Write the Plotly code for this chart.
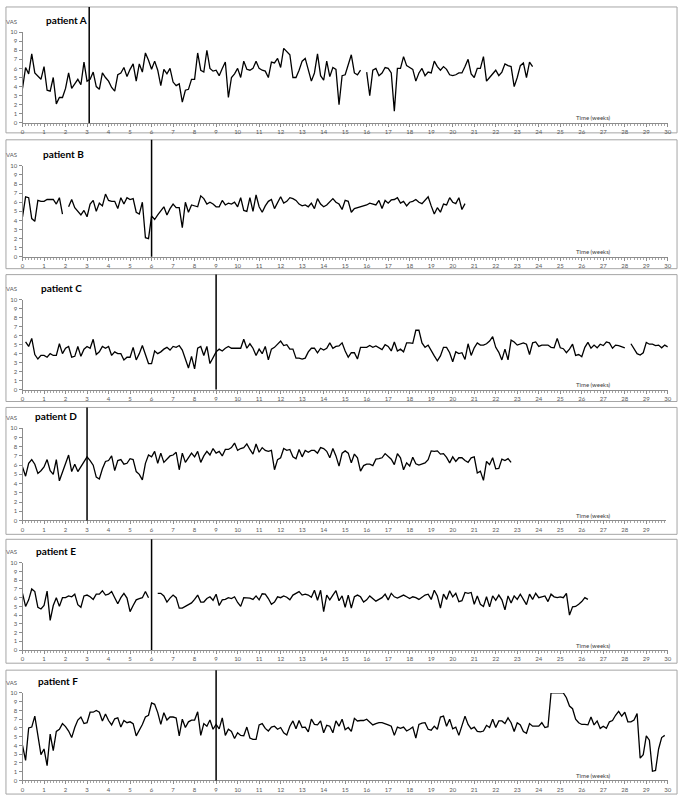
import plotly.graph_objects as go

# ---------------- data (daily VAS scores, None = missing day) ----------------
patients = ["A", "B", "C", "D", "E", "F"]
start_day = [0, 0, 1, 0, 0, 0]
intervention_week = [3.1, 6.0, 9.0, 3.0, 6.0, 9.0]

vas_a = [3.8, 6.1, 5.4, 7.6, 5.5, 5.2, 4.8, 6.2, 3.6, 3.5,
         5.0, 2.1, 2.8, 2.8, 3.8, 5.5, 3.8, 4.3, 4.8, 4.2,
         6.7, 4.6, 4.8, 5.6, 4.0, 3.7, 5.5, 5.0, 4.6, 3.9,
         3.5, 5.3, 5.5, 6.1, 5.1, 5.9, 6.5, 4.6, 6.5, 5.6,
         7.7, 6.9, 5.9, 6.8, 5.8, 4.1, 5.9, 5.4, 6.0, 4.5,
         4.1, 4.3, 2.3, 3.6, 3.7, 4.8, 4.8, 7.7, 5.8, 5.6,
         8.0, 6.0, 5.7, 5.8, 5.2, 6.0, 6.7, 2.8, 5.0, 5.4,
         6.0, 5.0, 6.8, 5.9, 5.8, 6.0, 6.8, 6.0, 5.8, 5.7,
         5.0, 6.7, 6.6, 7.1, 6.1, 8.2, 7.8, 7.5, 5.0, 5.0,
         5.8, 6.8, 7.1, 5.9, 4.6, 5.5, 7.6, 5.2, 4.7, 6.8,
         5.1, 6.1, 5.9, 2.0, 5.2, 5.3, 6.4, 7.5, 5.5, 5.3,
         5.8, None, 5.6, 3.0, 5.8, 6.0, 5.2, 5.5, 6.1, 6.0,
         5.5, 1.3, 6.0, 6.0, 7.3, 6.3, 6.1, 5.9, 4.6, 5.5,
         6.0, 5.2, 5.6, 5.5, 6.8, 6.2, 5.8, 6.2, 5.9, 5.3,
         5.2, 5.3, 5.5, 5.5, 6.2, 7.0, 5.4, 5.0, 6.0, 6.0,
         7.3, 4.6, 5.0, 5.4, 5.8, 5.2, 5.6, 6.5, 6.3, 6.2,
         4.0, 5.0, 6.3, 6.6, 5.0, 6.7, 6.2]

vas_b = [4.4, 6.6, 6.5, 4.2, 3.9, 6.2, 6.1, 6.1, 6.3, 6.3,
         6.3, 5.8, 6.5, 4.7, None, 5.5, 6.3, 5.4, 5.0, 4.6,
         5.1, 4.4, 5.8, 6.2, 5.0, 5.9, 5.6, 6.9, 6.2, 6.1,
         6.1, 5.3, 6.5, 5.8, 6.5, 6.3, 6.4, 4.9, 4.7, 6.0,
         2.1, 2.0, 4.5, 4.1, 4.6, 5.0, 5.5, 4.6, 5.3, 5.8,
         5.4, 5.4, 3.2, 6.0, 4.9, 5.7, 5.6, 5.5, 6.7, 6.4,
         5.8, 6.0, 5.8, 5.5, 5.5, 6.2, 5.7, 5.9, 5.8, 6.0,
         5.5, 6.5, 5.1, 5.0, 6.5, 5.0, 6.8, 5.5, 4.9, 5.6,
         6.1, 6.3, 5.3, 6.0, 6.6, 5.9, 6.1, 6.5, 6.4, 6.2,
         5.8, 5.6, 5.7, 5.5, 5.9, 5.3, 6.4, 5.8, 5.5, 5.7,
         6.0, 6.4, 6.0, 5.8, 5.2, 6.2, 6.1, 4.9, 5.3, 5.4,
         5.5, 5.6, 5.7, 5.9, 5.8, 5.7, 6.2, 5.3, 6.2, 5.9,
         6.25, 6.3, 6.5, 5.9, 6.1, 5.6, 6.0, 6.1, 6.3, 6.0,
         5.85, 6.2, 6.6, 5.6, 4.7, 5.4, 4.9, 5.8, 5.7, 6.5,
         6.0, 5.85, 6.5, 5.2, 5.85]

vas_c = [5.3, 4.8, 5.7, 3.9, 3.4, 3.8, 3.8, 3.6, 4.0, 3.8,
         3.8, 5.1, 4.0, 4.6, 4.8, 3.6, 3.7, 4.8, 3.7, 4.5,
         4.8, 4.6, 5.6, 3.9, 4.2, 4.8, 4.6, 4.8, 3.8, 4.2,
         4.0, 4.0, 3.3, 3.6, 3.6, 4.7, 3.3, 4.0, 4.9, 4.0,
         2.9, 2.9, 4.3, 4.0, 4.2, 4.5, 4.7, 4.4, 4.8, 4.7,
         4.9, 4.4, 3.5, 2.4, 3.7, 2.3, 4.6, 4.8, 3.8, 4.8,
         2.9, 3.6, 4.2, 4.5, 4.3, 4.6, 4.8, 4.6, 4.6, 4.6,
         4.6, 5.6, 4.6, 5.1, 4.6, 3.8, 4.5, 4.0, 4.8, 3.3,
         4.5, 4.7, 5.1, 5.4, 4.9, 5.0, 4.5, 4.5, 3.5, 3.5,
         3.4, 3.5, 4.2, 4.6, 4.6, 4.1, 4.6, 4.4, 4.6, 5.2,
         4.6, 4.8, 4.85, 5.2, 4.3, 3.6, 4.1, 4.1, 3.4, 4.7,
         4.7, 4.7, 4.9, 4.7, 4.85, 4.6, 4.45, 5.0, 4.8, 4.3,
         5.3, 4.3, 4.5, 4.2, 5.2, 5.2, 5.15, 6.6, 6.6, 5.2,
         4.7, 4.95, 4.3, 3.75, 3.2, 3.75, 4.7, 4.7, 4.1, 3.1,
         4.2, 4.0, 4.1, 3.35, 5.1, 3.8, 4.65, 5.2, 4.95, 4.95,
         5.1, 5.4, 5.9, 4.7, 4.15, 3.3, 4.5, 3.3, 5.5, 5.3,
         4.95, 5.05, 5.2, 5.05, 3.9, 5.2, 5.3, 4.8, 4.95, 4.95,
         4.95, 4.7, 4.65, 5.7, 4.65, 4.55, 4.1, 4.5, 5.05, 3.8,
         3.9, 3.65, 4.7, 5.25, 4.6, 4.95, 4.65, 5.05, 4.9, 5.3,
         5.2, 4.6, 4.95, 4.9, 4.75, 4.65, None, 5.1, 4.5, 4.0,
         3.85, 4.1, 5.25, 5.05, 5.05, 4.9, 4.95, 4.65, 4.95, 4.75]

vas_d = [5.8, 4.8, 6.2, 6.6, 6.1, 5.1, 5.4, 5.8, 6.6, 5.4,
         5.0, 6.6, 4.3, 5.2, 6.2, 7.1, 5.3, 6.1, 5.3, 5.8,
         6.4, 6.9, 6.5, 6.0, 4.7, 4.5, 5.6, 6.4, 6.5, 7.0,
         5.4, 6.5, 6.6, 6.1, 6.2, 6.7, 6.6, 5.3, 5.0, 4.4,
         6.2, 7.1, 6.9, 7.5, 6.2, 7.3, 6.3, 6.7, 7.0, 7.1,
         7.4, 5.5, 7.3, 6.3, 6.8, 7.3, 6.9, 7.5, 6.3, 7.0,
         7.5, 7.1, 7.8, 7.3, 7.5, 7.0, 7.7, 7.7, 7.9, 8.4,
         7.6, 7.8, 7.9, 8.3, 7.7, 7.2, 8.3, 7.4, 7.9, 7.6,
         7.5, 7.6, 5.5, 6.6, 6.8, 7.8, 7.6, 7.7, 6.9, 6.7,
         7.7, 6.9, 7.6, 7.4, 7.6, 7.6, 7.3, 7.9, 7.8, 7.5,
         6.8, 7.8, 7.0, 5.9, 7.3, 7.55, 7.3, 6.25, 7.2, 6.8,
         5.35, 5.95, 6.1, 6.1, 5.95, 6.65, 6.7, 6.8, 7.25, 6.9,
         6.65, 6.05, 7.25, 6.8, 5.5, 6.25, 5.9, 6.85, 6.15, 6.0,
         6.1, 6.25, 6.6, 7.55, 7.5, 7.55, 7.2, 7.25, 6.85, 6.25,
         6.9, 6.4, 6.8, 6.8, 6.5, 6.3, 6.8, 6.9, 5.15, 5.35,
         4.35, 6.4, 6.05, 6.8, 5.6, 5.65, 6.65, 6.5, 6.7, 6.3]

vas_e = [6.5, 5.0, 5.75, 7.0, 6.7, 4.9, 4.7, 5.1, 6.75, 3.4,
         5.1, 6.0, 5.0, 6.0, 6.0, 6.2, 6.1, 6.4, 5.2, 4.9,
         6.2, 6.3, 6.1, 5.8, 6.4, 6.4, 6.8, 6.3, 6.4, 6.7,
         6.0, 5.3, 6.0, 6.5, 5.95, 4.4, 5.1, 5.75, 5.9, 6.0,
         6.7, 6.0, None, None, 6.5, 6.5, 6.2, 5.5, 5.95, 6.3,
         6.0, 4.8, 4.8, 5.0, 5.2, 5.4, 5.8, 6.3, 5.5, 5.5,
         5.9, 6.1, 5.7, 6.4, 5.1, 5.75, 5.8, 6.0, 5.9, 6.1,
         5.45, 5.0, 6.0, 6.0, 5.95, 5.8, 6.2, 5.75, 6.45, 6.4,
         5.9, 5.25, 5.5, 6.1, 6.0, 6.2, 6.05, 5.75, 6.3, 6.5,
         6.7, 6.3, 6.4, 6.3, 6.05, 6.85, 5.7, 6.85, 4.4, 6.3,
         5.75, 6.3, 6.8, 5.65, 6.2, 4.9, 6.3, 4.8, 6.1, 6.3,
         6.1, 5.5, 5.75, 6.2, 5.9, 5.6, 5.8, 6.0, 6.4, 5.75,
         6.5, 6.1, 5.95, 6.1, 6.3, 6.1, 5.9, 6.1, 6.0, 5.8,
         6.1, 6.3, 6.4, 5.8, 6.85, 6.2, 4.8, 6.4, 5.8, 6.8,
         6.1, 6.5, 5.55, 5.65, 6.6, 6.5, 6.6, 5.25, 6.2, 5.25,
         5.0, 6.1, 4.95, 6.2, 5.7, 6.3, 5.75, 4.6, 6.2, 5.4,
         6.2, 5.8, 6.4, 5.8, 5.2, 6.4, 5.8, 6.5, 6.0, 6.1,
         6.2, 5.55, 6.4, 6.1, 6.0, 6.1, 6.0, 6.5, 4.0, 4.95,
         5.0, 5.25, 5.55, 6.0, 5.8]

vas_f = [4.0, 2.3, 6.0, 6.1, 7.35, 5.3, 2.95, 3.6, 1.7, 5.3,
         3.4, 5.6, 5.85, 6.5, 6.15, 5.65, 4.9, 6.05, 6.9, 7.25,
         6.5, 6.6, 7.8, 7.8, 8.0, 7.8, 6.8, 7.6, 6.85, 6.35,
         7.05, 7.15, 6.1, 6.85, 6.6, 6.7, 6.5, 5.1, 5.75, 6.4,
         7.25, 7.45, 8.85, 8.7, 7.75, 6.4, 7.75, 6.9, 7.25, 7.25,
         7.15, 5.1, 7.0, 6.05, 6.7, 6.9, 6.9, 7.85, 5.15, 6.5,
         6.2, 6.9, 5.85, 6.4, 5.9, 7.15, 5.15, 5.85, 5.6, 4.8,
         5.45, 5.15, 5.1, 6.1, 4.85, 4.7, 4.7, 6.35, 6.5, 5.95,
         5.65, 6.1, 6.2, 5.85, 6.05, 5.45, 5.2, 6.2, 6.8, 5.9,
         6.85, 6.05, 6.1, 5.55, 7.0, 6.4, 6.35, 6.8, 5.45, 6.3,
         6.2, 5.45, 6.8, 6.2, 7.0, 5.8, 6.05, 5.6, 7.1, 6.8,
         6.85, 6.85, 7.0, 6.7, 6.35, 6.5, 6.6, 6.6, 6.5, 6.35,
         6.2, 5.15, 6.1, 5.95, 6.1, 5.65, 5.85, 6.1, 4.85, 6.4,
         6.55, 6.6, 5.85, 5.75, 6.2, 5.85, 7.25, 7.35, 6.2, 7.0,
         5.9, 6.1, 5.15, 6.2, 7.35, 6.4, 5.9, 6.1, 5.6, 5.55,
         5.65, 6.3, 6.05, 7.0, 6.05, 6.8, 6.8, 6.5, 7.15, 6.6,
         5.6, 6.6, 6.35, 5.6, 5.4, 6.5, 6.2, 6.2, 6.2, 6.6,
         6.05, 6.15, 10.0, 10.0, 10.0, 10.0, 10.0, 9.45, 8.5, 8.2,
         7.0, 6.6, 6.4, 6.4, 6.35, 7.25, 6.35, 6.8, 5.95, 6.2,
         5.95, 6.7, 6.85, 7.45, 7.9, 7.35, 7.8, 6.7, 6.7, 6.9,
         7.65, 2.55, 2.95, 5.1, 4.6, 1.05, 1.15, 3.6, 4.9, 5.15]

series = [vas_a, vas_b, vas_c, vas_d, vas_e, vas_f]
x_max = [30, 30, 30, 29.9, 30, 30]
week_ticks = list(range(0, 31))

# ---------------- layout geometry (pixels) ----------------
W, H = 685, 803
plot_left, plot_right = 20.7, 671.7
# (pixel of y=10, pixel of y=0, box top, box bottom)
panels_px = [
    (28.3, 120.0, 3, 130),
    (163.3, 255.0, 137, 267),
    (298.3, 389.0, 273, 401),
    (428.0, 521.0, 407, 535),
    (563.7, 651.7, 540, 665),
    (695.0, 783.3, 672, 797),
]
title_left_px = [42, 39, 37, 31, 32, 34]

def py(p):
    return 1 - p / H

def px(p):
    return p / W

FONT = "Lato, 'Liberation Sans', sans-serif"
fig = go.Figure()
shapes, annotations = [], []
layout = {}

for k, (name, start, vals) in enumerate(zip(patients, start_day, series)):
    idx = k + 1
    xa = "x" if idx == 1 else f"x{idx}"
    ya = "y" if idx == 1 else f"y{idx}"
    xkey = "xaxis" if idx == 1 else f"xaxis{idx}"
    ykey = "yaxis" if idx == 1 else f"yaxis{idx}"
    y10, y0, btop, bbot = panels_px[k]

    weeks = [(start + i) / 7 for i in range(len(vals))]
    fig.add_trace(go.Scatter(
        x=weeks, y=vals, mode="lines", xaxis=xa, yaxis=ya,
        line=dict(color="black", width=1.3), connectgaps=False,
        showlegend=False, hoverinfo="skip"))

    tv = [t for t in week_ticks if t <= x_max[k]]
    layout[xkey] = dict(
        domain=[px(plot_left), px(plot_left + (plot_right - plot_left) * x_max[k] / 30)],
        anchor=ya, range=[0, x_max[k]], tickmode="array", tickvals=tv,
        ticktext=[str(t) for t in tv], ticks="outside", ticklen=3, tickwidth=1,
        tickcolor="#8c8c8c", showline=True, linecolor="#8c8c8c", linewidth=1,
        showgrid=False, zeroline=False,
        minor=dict(dtick=1 / 7, tick0=0, ticks="outside", ticklen=2, tickcolor="#a6a6a6", showgrid=False),
        tickfont=dict(size=6, color="#595959", family=FONT))
    layout[ykey] = dict(
        domain=[py(y0), py(y10)], anchor=xa, range=[0, 10], dtick=1,
        ticks="outside", ticklen=3, tickcolor="#8c8c8c", showline=True,
        linecolor="#8c8c8c", linewidth=1, showgrid=False, zeroline=False,
        tickfont=dict(size=6, color="#595959", family=FONT))

    # panel frame
    shapes.append(dict(type="rect", xref="paper", yref="paper",
                       x0=px(4), x1=px(681), y0=py(bbot), y1=py(btop),
                       line=dict(color="#a6a6a6", width=1), layer="below"))
    # intervention marker
    shapes.append(dict(type="line", xref=xa, yref="paper",
                       x0=intervention_week[k], x1=intervention_week[k],
                       y0=py(y0), y1=py(btop),
                       line=dict(color="black", width=1.5)))

    annotations.append(dict(text="VAS", xref="paper", yref="paper",
                            x=px(10), y=py(y10 - 11), showarrow=False,
                            xanchor="center", yanchor="middle",
                            font=dict(size=6, color="#595959", family=FONT)))
    annotations.append(dict(text=f"<b>patient {name}</b>", xref="paper", yref="paper",
                            x=px(title_left_px[k]), y=py(y10 - 12), showarrow=False,
                            xanchor="left", yanchor="middle",
                            font=dict(size=10, color="black", family=FONT)))
    annotations.append(dict(text="Time (weeks)", xref=xa, yref="paper",
                            x=26.55, y=py(y0 - 5), showarrow=False,
                            xanchor="center", yanchor="middle",
                            font=dict(size=6, color="#404040", family=FONT)))

fig.update_layout(
    width=W, height=H, margin=dict(l=0, r=0, t=0, b=0),
    paper_bgcolor="white", plot_bgcolor="white",
    shapes=shapes, annotations=annotations, **layout)

fig.write_html("out.html")
